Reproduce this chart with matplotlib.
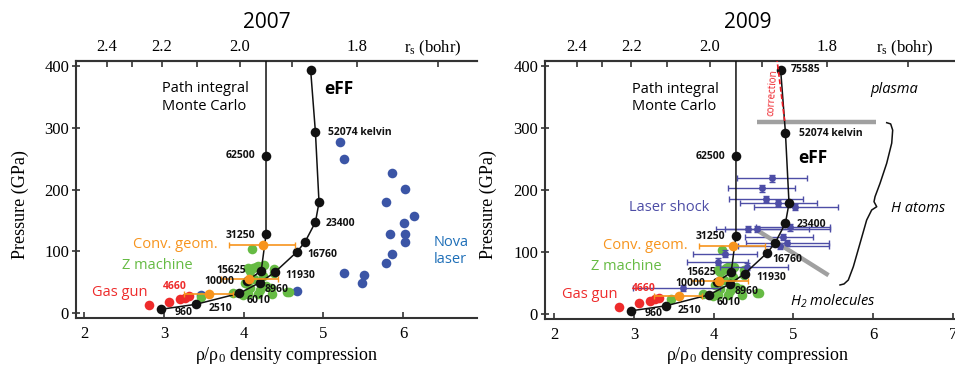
import numpy as np
import matplotlib.pyplot as plt

plt.rcParams['mathtext.default'] = 'regular'

SANS = ['Open Sans', 'DejaVu Sans']
SERIF = 'Liberation Serif'
W, H = 955, 366

# eFF Hugoniot (black line with dots)
eff_x = [2.96, 3.40, 3.945, 4.20, 4.39, 4.67, 4.77, 4.90, 4.945, 4.90, 4.84]
eff_p = [5.5, 13.6, 31.5, 48.7, 65.6, 99, 115, 147, 179, 293, 394]

# Path integral Monte Carlo (first value only extends the line up to the frame)
pimc_x = [4.28, 4.28, 4.28, 4.22, 4.04]
pimc_p = [430, 255, 127, 68, 51.5]

# Gas gun (red)
gas_x = [2.816, 3.063, 3.20, 3.263, 3.318]
gas_p = [12, 18, 22, 24.5, 27]

# Convergent geometry (orange, horizontal error bars)
cg_x = [4.24, 4.07, 3.56]
cg_p = [109.5, 54, 30]
cg_lo = [3.82, 3.72, 3.255]
cg_hi = [4.65, 4.43, 3.86]

# Z machine (green)
z_x = [4.11, 4.06, 4.12, 4.18, 4.25, 4.38, 4.38, 4.16, 4.08, 4.02, 4.08, 4.20,
       4.34, 4.35, 4.54, 4.57, 3.87, 3.47, 3.99, 4.06, 4.18, 4.28, 4.13, 4.24]
z_p = [103, 72, 72, 76, 77, 71, 64, 74, 68, 48, 40, 37,
       40, 31, 34, 34, 32, 25, 29, 31, 31, 44, 55, 60]

# Nova laser (blue, 2007 only)
nova_x = [5.21, 5.255, 5.86, 6.02, 5.79, 6.14, 6.01, 5.83, 6.02, 6.02, 5.86,
          5.79, 5.255, 5.51, 5.48, 4.665, 3.464]
nova_p = [277, 249, 227, 201, 179, 157, 145, 127, 128, 115, 95,
          80, 64, 62, 48, 36, 28]

# Laser shock (2009, horizontal error bars)
ls_x = [4.736, 4.603, 4.657, 4.81, 5.02, 4.435, 4.548, 4.957, 4.874, 4.924, 4.83,
        4.14, 4.059, 4.414, 3.62]
ls_p = [219, 203, 185.5, 179, 172.6, 137, 137, 140, 125, 115.5, 110, 98, 85, 77, 43]
ls_lo = [4.297, 4.184, 4.197, 4.33, 4.5, 4.03, 4.14, 4.53, 4.393, 4.41, 4.31,
         3.746, 3.663, 4.08, 2.994]
ls_hi = [5.167, 5.02, 5.117, 5.29, 5.563, 5.46, 5.2, 5.46, 5.25, 5.44, 5.44,
         4.54, 4.435, 4.936, 4.08]

# 2009 extras
corr_x = [4.79, 4.89]
corr_p = [415, 312]
plasma_x = [4.54, 6.04]
plasma_p = [310, 310]
mol_x = [4.54, 5.44]
mol_p = [136, 63]
brace_x = [6.169, 6.219, 6.244, 6.232, 6.169, 6.085, 6.023, 6.01, 6.044,
           5.981, 5.918, 5.835, 5.751, 5.688, 5.634, 5.584]
brace_p = [309, 307, 297, 276, 243.5, 211, 189.7, 181.6, 173.5,
           168.2, 152, 114.5, 76.8, 55.3, 48.9, 47.3]

rs_major = [2.4, 2.2, 2.0, 1.8]
rs_minor = [2.3, 2.1, 1.9, 1.7]

BLACK = '#111111'
RED = '#ee2b2b'
ORANGE = '#f7941d'
GREEN = '#66bb44'
NOVA = '#3b55a6'
NOVA_TXT = '#1e6fb8'
LASER = '#4d4da6'
GRAY = '#a0a0a0'
DOT = 48


def fig_xy(px, py):
    return px / W, 1 - py / H


def to_rs(x):
    x = np.asarray(x, dtype=float)
    return 3.162 * np.where(x > 0.05, x, 0.05) ** (-1 / 3)


def from_rs(r):
    r = np.asarray(r, dtype=float)
    return (3.162 / np.where(r > 0.05, r, 0.05)) ** 3


def style_axes(ax, xlim, ylim):
    for s in ['left', 'top', 'bottom']:
        ax.spines[s].set_color('#333333')
        ax.spines[s].set_linewidth(1.5)
    ax.spines['right'].set_visible(False)
    ax.set_xticks([2, 3, 4, 5, 6, 7])
    ax.set_yticks([0, 100, 200, 300, 400])
    ax.set_xlim(*xlim)
    ax.set_ylim(*ylim)
    ax.tick_params(axis='x', direction='in', length=4, width=1.2, color='#333333',
                   pad=6, labelsize=12)
    ax.tick_params(axis='y', direction='inout', length=6, width=1.2, color='#333333',
                   pad=2, labelsize=12)
    for lab in ax.get_xticklabels() + ax.get_yticklabels():
        lab.set_fontfamily(SERIF)
    top = ax.secondary_xaxis('top', functions=(to_rs, from_rs))
    top.set_xticks(rs_major)
    top.set_xticklabels([f'{v:.1f}' for v in rs_major], fontfamily=SERIF, fontsize=12)
    top.set_xticks(rs_minor, minor=True)
    top.tick_params(which='both', direction='in', length=4, width=1.2,
                    color='#333333', pad=4)
    top.spines['top'].set_color('#333333')
    top.spines['top'].set_linewidth(1.5)


def common(ax, lbl):
    ax.scatter(z_x, z_p, s=DOT, color=GREEN, zorder=2, linewidths=0)
    ax.scatter(gas_x, gas_p, s=DOT, color=RED, zorder=3, linewidths=0)
    ax.plot(pimc_x, pimc_p, color=BLACK, lw=1.1, zorder=5)
    ax.scatter(pimc_x[1:], pimc_p[1:], s=DOT, color=BLACK, zorder=6, linewidths=0)
    ax.plot(eff_x, eff_p, color=BLACK, lw=1.1, zorder=5)
    ax.scatter(eff_x, eff_p, s=DOT, color=BLACK, zorder=6, linewidths=0)
    xerr = [np.subtract(cg_x, cg_lo), np.subtract(cg_hi, cg_x)]
    ax.errorbar(cg_x, cg_p, xerr=xerr, fmt='o', ms=7, color=ORANGE, mec='none',
                elinewidth=1.2, capsize=2.5, zorder=7)
    for txt, x, y, ha, col in lbl:
        ax.text(x, y, txt, ha=ha, va='center', fontsize=7.5, fontweight='bold',
                color=col, family=SANS, zorder=8)


fig = plt.figure(figsize=(W / 100, H / 100), dpi=100)

# ---------------- 2007 ----------------
ax1 = fig.add_axes([76 / W, 1 - 318 / H, (477.3 - 76) / W, (318 - 61) / H])
ax1.scatter(nova_x, nova_p, s=DOT, color=NOVA, zorder=2, linewidths=0)
lbl07 = [('52074 kelvin', 5.061, 293, 'left', BLACK),
         ('62500', 4.142, 255, 'right', BLACK),
         ('31250', 4.142, 125.6, 'right', BLACK),
         ('23400', 5.033, 145, 'left', BLACK),
         ('16760', 4.798, 95, 'left', BLACK),
         ('11930', 4.527, 60, 'left', BLACK),
         ('15625', 3.661, 68, 'left', BLACK),
         ('10000', 3.511, 50, 'left', BLACK),
         ('8960', 4.258, 37, 'left', BLACK),
         ('6010', 4.038, 20.6, 'left', BLACK),
         ('2510', 3.556, 6.5, 'left', BLACK),
         ('960', 3.129, 0.6, 'left', BLACK),
         ('4660', 2.984, 42, 'left', RED)]
common(ax1, lbl07)
style_axes(ax1, (1.896, 6.931), (-8.6, 408.6))
ax1.text(2.971, 349, 'Path integral\nMonte Carlo', ha='left', va='center',
         fontsize=10.5, family=SANS, linespacing=1.25)
ax1.text(5.008, 363, 'eFF', ha='left', va='center', fontsize=12.5,
         fontweight='bold', family=SANS)
ax1.text(2.607, 111.5, 'Conv. geom.', ha='left', va='center', fontsize=10.5,
         color=ORANGE, family=SANS)
ax1.text(2.469, 77, 'Z machine', ha='left', va='center', fontsize=10.5,
         color=GREEN, family=SANS)
ax1.text(2.097, 33, 'Gas gun', ha='left', va='center', fontsize=10.5,
         color=RED, family=SANS)
ax1.text(6.379, 100, 'Nova\nlaser', ha='left', va='center', fontsize=10.5,
         color=NOVA_TXT, family=SANS, linespacing=1.25)

# ---------------- 2009 ----------------
ax2 = fig.add_axes([545 / W, 1 - 319 / H, (955 - 545) / W, (319 - 61) / H])
xerr = [np.subtract(ls_x, ls_lo), np.subtract(ls_hi, ls_x)]
ax2.errorbar(ls_x, ls_p, xerr=xerr, yerr=5, fmt='o', ms=5, color=LASER,
             mec='none', elinewidth=1.0, capsize=2, zorder=4)
ax2.plot(plasma_x, plasma_p, color=GRAY, lw=3.2, solid_capstyle='butt', zorder=4)
ax2.plot(mol_x, mol_p, color=GRAY, lw=3.2, solid_capstyle='butt', zorder=4)
ax2.plot(corr_x, corr_p, color='#ee1c24', lw=1.2, ls=(0, (3, 1.5)), zorder=7)
ax2.plot(brace_x, brace_p, color=BLACK, lw=1.1, zorder=4)
lbl09 = [('75585', 4.966, 394.5, 'left', BLACK),
         ('52074 kelvin', 5.07, 292, 'left', BLACK),
         ('62500', 4.143, 253.7, 'right', BLACK),
         ('31250', 4.15, 124.7, 'right', BLACK),
         ('23400', 5.041, 145.6, 'left', BLACK),
         ('16760', 4.74, 87.6, 'left', BLACK),
         ('11930', 4.54, 59.7, 'left', BLACK),
         ('15625', 3.663, 67.7, 'left', BLACK),
         ('10000', 3.516, 48.9, 'left', BLACK),
         ('8960', 4.268, 36, 'left', BLACK),
         ('6010', 4.039, 19.4, 'left', BLACK),
         ('2510', 3.545, 5.8, 'left', BLACK),
         ('960', 3.132, 0.5, 'left', BLACK),
         ('4660', 2.981, 41.3, 'left', RED)]
common(ax2, lbl09)
style_axes(ax2, (1.887, 7.025), (-7.6, 408.5))
ax2.text(2.974, 349, 'Path integral\nMonte Carlo', ha='left', va='center',
         fontsize=10.5, family=SANS, linespacing=1.25)
ax2.text(5.061, 252.6, 'eFF', ha='left', va='center', fontsize=12.5,
         fontweight='bold', family=SANS)
ax2.text(2.61, 110.6, 'Conv. geom.', ha='left', va='center', fontsize=10.5,
         color=ORANGE, family=SANS)
ax2.text(2.464, 76.8, 'Z machine', ha='left', va='center', fontsize=10.5,
         color=GREEN, family=SANS)
ax2.text(2.096, 32.7, 'Gas gun', ha='left', va='center', fontsize=10.5,
         color=RED, family=SANS)
ax2.text(2.944, 172, 'Laser shock', ha='left', va='center', fontsize=10.5,
         color=LASER, family=SANS)
ax2.text(5.969, 362, 'plasma', ha='left', va='center', fontsize=10.5,
         style='italic', family=SANS)
ax2.text(6.219, 171, 'H atoms', ha='left', va='center', fontsize=10.5,
         style='italic', family=SANS)
ax2.text(4.957, 20.3, 'H$_2$ molecules', ha='left', va='center', fontsize=10.5,
         style='italic', family=SANS)
ax2.text(4.745, 358, 'correction', ha='center', va='center', fontsize=7,
         rotation=86, color='#ee1c24', family=SANS)

# titles and axis labels
for px, title in [(267, '2007'), (748, '2009')]:
    fig.text(*fig_xy(px, 22), title, ha='center', va='center', fontsize=15,
             family=SANS)
for px in [20.5, 488.5]:
    fig.text(*fig_xy(px, 205), 'Pressure (GPa)', ha='center', va='center',
             rotation=90, fontsize=13, family=SERIF)
for px, py in [(286.7, 355), (758, 356)]:
    fig.text(*fig_xy(px, py), 'ρ/ρ$_0$ density compression', ha='center',
             va='center', fontsize=13, family=SERIF)
for px in [433, 905]:
    fig.text(*fig_xy(px, 48), 'r$_s$ (bohr)', ha='center', va='center',
             fontsize=12, family=SERIF)

fig.savefig('out.png', dpi=100)
